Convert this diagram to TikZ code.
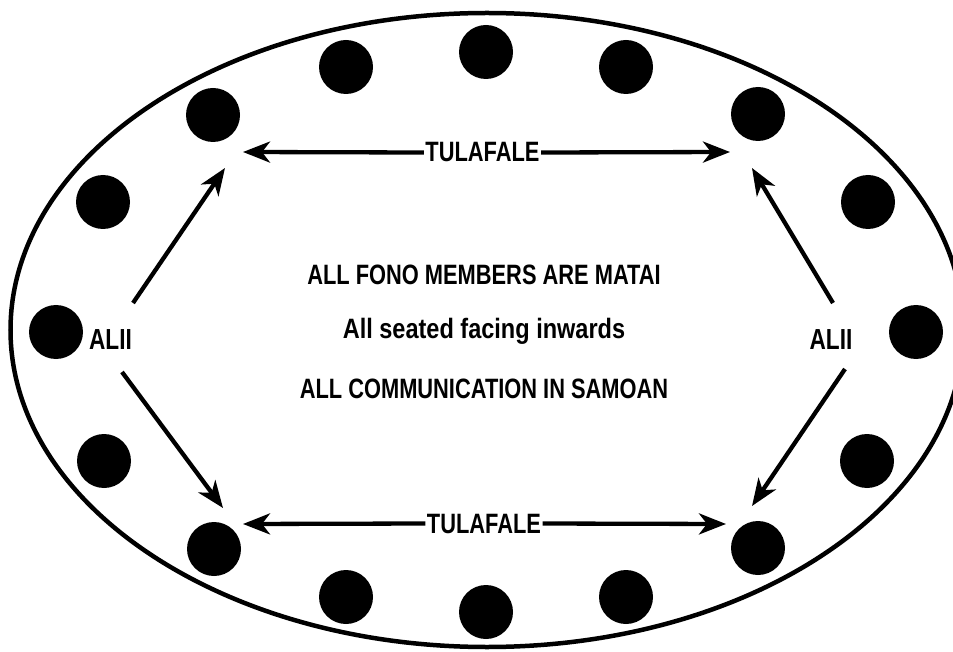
\documentclass[tikz,border=0pt]{standalone}
\usepackage{fontspec}
\usetikzlibrary{arrows.meta}
\newfontfamily\condcaps[FakeStretch=0.78]{Liberation Sans Bold}
\newfontfamily\condlow[FakeStretch=0.84]{Liberation Sans Bold}
\begin{document}
\begin{tikzpicture}[x=1pt,y=-1pt,
  dot/.style={circle,fill=black,draw=none,minimum size=54pt,inner sep=0pt},
  lbl/.style={font=\condcaps\fontsize{28}{30}\selectfont,inner sep=1.5pt,anchor=base},
  alii/.style={font=\condcaps\fontsize{29}{31}\selectfont,inner sep=1.5pt,anchor=base},
  conn/.style={line width=4.3pt,-{Stealth[length=27pt,width=21pt,inset=8pt]}}]
\useasboundingbox (0,0) rectangle (953,652);
\draw[line width=4.5pt] (487,330) ellipse [x radius=476.5pt, y radius=317pt];
% seats
\node[dot] (c1) at (346,67) {};
\node[dot] (c2) at (486,52) {};
\node[dot] (c3) at (626,67) {};
\node[dot] (c4) at (213,115) {};
\node[dot] (c5) at (758,114) {};
\node[dot] (c6) at (103,202) {};
\node[dot] (c7) at (56,332) {};
\node[dot] (c8) at (104,461) {};
\node[dot] (c9) at (868,202) {};
\node[dot] (c10) at (916,332) {};
\node[dot] (c11) at (867,461) {};
\node[dot] (c12) at (214,549) {};
\node[dot] (c13) at (758,548) {};
\node[dot] (c14) at (346,597) {};
\node[dot] (c15) at (486,612) {};
\node[dot] (c16) at (626,597) {};
% labels
\node[lbl] (tultop) at (482.5,162) {TULAFALE};
\node[lbl] (tulbot) at (484,533) {TULAFALE};
\node[alii] (aliil) at (110.5,349) {ALII};
\node[alii] (aliir) at (831,349) {ALII};
\node[lbl] (t1) at (484,285) {ALL FONO MEMBERS ARE MATAI};
\node[lbl,font=\condlow\fontsize{28}{30}\selectfont] (t2) at (484,338) {All seated facing inwards};
\node[lbl] (t3) at (484,398) {ALL COMMUNICATION IN SAMOAN};
% arrow end points
\coordinate (ttl) at (243,152);
\coordinate (ttr) at (730,152);
\coordinate (tbl) at (243,524);
\coordinate (tbr) at (726,524);
\coordinate (dul) at (225,168);
\coordinate (dll) at (223,508);
\coordinate (dur) at (752,168);
\coordinate (dlr) at (752,506);
\coordinate (sul) at (133,303);
\coordinate (sll) at (122,372);
\coordinate (sur) at (833,303);
\coordinate (slr) at (845,369);
% connectors
\draw[conn] (tultop.west) -- (ttl);
\draw[conn] (tultop.east) -- (ttr);
\draw[conn] (tulbot.west) -- (tbl);
\draw[conn] (tulbot.east) -- (tbr);
\draw[conn] (sul) -- (dul);
\draw[conn] (sll) -- (dll);
\draw[conn] (sur) -- (dur);
\draw[conn] (slr) -- (dlr);
\end{tikzpicture}
\end{document}
